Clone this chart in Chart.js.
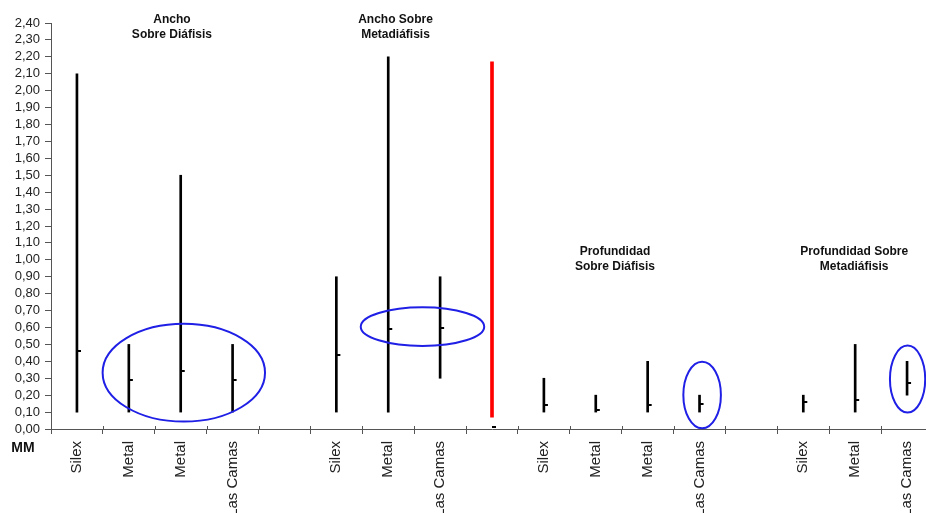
<!DOCTYPE html>
<html lang="es">

<head>
    <meta charset="UTF-8">
    <title>Ancho y Profundidad</title>
    <script src="https://cdn.jsdelivr.net/npm/chart.js"></script>
    <style>
        body {
            margin: 0;
            overflow: hidden;
            background: #fff;
        }

        #wrap {
            width: 940px;
            height: 513px;
        }
    </style>
</head>

<body>
    <div id="wrap"><canvas id="myChart"></canvas></div>

    <script>
        // Categories (blank slots separate the groups)
        const categories = ['Silex', 'Metal', 'Metal', 'Las Camas', '',
            'Silex', 'Metal', 'Las Camas', '',
            'Silex', 'Metal', 'Metal', 'Las Camas', '',
            'Silex', 'Metal', 'Las Camas'];

        // Min / max / mean (MM)
        const lowValues = [0.10, 0.10, 0.10, 0.10, null, 0.10, 0.10, 0.30, null, 0.10, 0.10, 0.10, 0.10, null, 0.10, 0.10, 0.20];
        const highValues = [2.10, 0.50, 1.50, 0.50, null, 0.90, 2.20, 0.90, null, 0.30, 0.20, 0.40, 0.20, null, 0.20, 0.50, 0.40];
        const meanValues = [0.46, 0.29, 0.34, 0.29, null, 0.44, 0.59, 0.60, 0.01, 0.14, 0.11, 0.14, 0.15, null, 0.16, 0.17, 0.27];

        // Red separator line between the "Ancho" and "Profundidad" groups
        const dividerLow = [null, null, null, null, null, null, null, null, 0.07, null, null, null, null, null, null, null, null];
        const dividerHigh = [null, null, null, null, null, null, null, null, 2.17, null, null, null, null, null, null, null, null];

        const yTicks = { min: 0, max: 2.4, step: 0.1 };

        const groupTitles = ['Ancho\nSobre Diáfisis', 'Ancho Sobre\nMetadiáfisis', 'Profundidad\nSobre Diáfisis', 'Profundidad Sobre\nMetadiáfisis'];

        // annotation placement, in category index / value units
        const titleSpots = [[1.83, 2.42], [6.14, 2.42], [10.37, 1.05], [14.98, 1.05]];
        const ellipses = [
            { x: 2.06, y: 0.333, rx: 1.565, ry: 0.289 },
            { x: 6.66, y: 0.605, rx: 1.19, ry: 0.114 },
            { x: 12.05, y: 0.201, rx: 0.362, ry: 0.197 },
            { x: 16.01, y: 0.295, rx: 0.34, ry: 0.198 }
        ];

        const FONT = 'Arial, "Liberation Sans", sans-serif';

        // small tick pointing right of the high-low line
        const meanMark = document.createElement('canvas');
        meanMark.width = 10;
        meanMark.height = 2;
        const mctx = meanMark.getContext('2d');
        mctx.fillStyle = '#000';
        mctx.fillRect(5, 0, 4, 2);

        const range = (lo, hi) => categories.map((_, i) => lo[i] == null ? null : [lo[i], hi[i]]);

        const notes = {
            id: 'notes',
            afterDatasetsDraw(chart) {
                const ctx = chart.ctx;
                const xs = chart.scales.x, ys = chart.scales.y;
                const catW = xs.getPixelForValue(1) - xs.getPixelForValue(0);
                const valH = ys.getPixelForValue(0) - ys.getPixelForValue(1);
                const area = chart.chartArea;
                ctx.save();

                // excel style ticks cross the category axis
                ctx.strokeStyle = '#555';
                ctx.lineWidth = 1;
                for (let i = 0; i <= categories.length; i++) {
                    const px = Math.round(xs.getPixelForValue(i - 0.5)) + 0.5;
                    ctx.beginPath();
                    ctx.moveTo(px, area.bottom - 3);
                    ctx.lineTo(px, area.bottom);
                    ctx.stroke();
                }

                ctx.strokeStyle = '#1f1fe6';
                ctx.lineWidth = 2;
                ellipses.forEach(e => {
                    ctx.beginPath();
                    ctx.ellipse(xs.getPixelForValue(e.x), ys.getPixelForValue(e.y), e.rx * catW, e.ry * valH, 0, 0, Math.PI * 2);
                    ctx.stroke();
                });

                ctx.fillStyle = '#111';
                ctx.font = 'bold 12px ' + FONT;
                ctx.textAlign = 'center';
                ctx.textBaseline = 'middle';
                groupTitles.forEach((t, i) => {
                    const px = xs.getPixelForValue(titleSpots[i][0]);
                    const py = ys.getPixelForValue(titleSpots[i][1]);
                    t.split('\n').forEach((line, j) => ctx.fillText(line, px, py + j * 15.5));
                });

                ctx.font = 'bold 14px ' + FONT;
                ctx.fillText('MM', area.left - 28, area.bottom + 19);
                ctx.restore();
            }
        };

        const ctx = document.getElementById('myChart').getContext('2d');
        const myChart = new Chart(ctx, {
            type: 'bar',
            data: {
                labels: categories,
                datasets: [{
                    label: 'Rango',
                    data: range(lowValues, highValues),
                    backgroundColor: '#000',
                    barThickness: 2,
                    grouped: false
                }, {
                    label: 'Separador',
                    data: range(dividerLow, dividerHigh),
                    backgroundColor: '#ff0000',
                    barThickness: 3,
                    grouped: false
                }, {
                    type: 'line',
                    label: 'Media',
                    data: meanValues,
                    showLine: false,
                    pointStyle: meanMark,
                    pointRadius: 3
                }]
            },
            plugins: [notes],
            options: {
                responsive: true,
                maintainAspectRatio: false,
                animation: false,
                layout: { padding: { top: 23, right: 7, left: 0, bottom: 0 } },
                plugins: {
                    legend: { display: false },
                    tooltip: { enabled: false }
                },
                scales: {
                    x: {
                        offset: true,
                        afterFit: s => { s.height = 84; },
                        grid: { offset: true, drawOnChartArea: false, tickLength: 5, color: '#555' },
                        border: { color: '#555', width: 1 },
                        ticks: {
                            autoSkip: false,
                            minRotation: 90,
                            maxRotation: 90,
                            padding: 7,
                            color: '#222',
                            font: { family: FONT, size: 15 }
                        }
                    },
                    y: {
                        min: yTicks.min,
                        max: yTicks.max,
                        afterFit: s => { s.width = 51; },
                        grid: { drawOnChartArea: false, tickLength: 6, color: '#555' },
                        border: { color: '#555', width: 1 },
                        ticks: {
                            stepSize: yTicks.step,
                            autoSkip: false,
                            maxTicksLimit: 40,
                            padding: 5,
                            color: '#222',
                            font: { family: FONT, size: 13 },
                            callback: v => v.toFixed(2).replace('.', ',')
                        }
                    }
                }
            }
        });
    </script>
</body>

</html>
